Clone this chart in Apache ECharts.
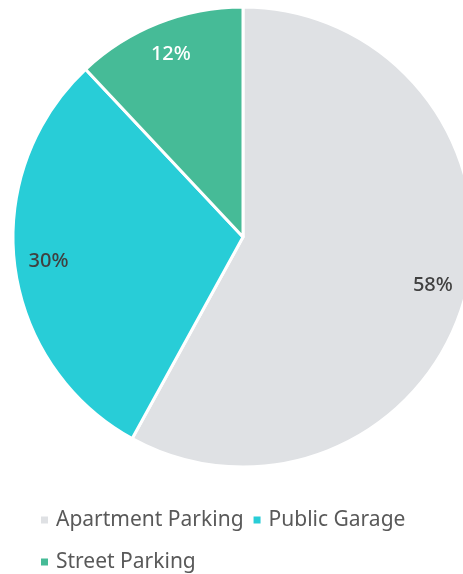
<!DOCTYPE html>
<html>
<head>
<meta charset="utf-8">
<script src="https://cdn.jsdelivr.net/npm/echarts@6/dist/echarts.min.js"></script>
<style>html,body{margin:0;padding:0;background:#fff;}#c{width:463px;height:574px;}</style>
</head>
<body>
<div id="c"></div>
<script>
const categories = ['Apartment Parking', 'Public Garage', 'Street Parking'];
const values = [58, 30, 12];
const colors = ['#dfe1e4', '#28cdd7', '#46bb97'];
const labelColors = ['#404040', '#404040', '#ffffff'];

const chart = echarts.init(document.getElementById('c'));
const pieData = categories.map((n, i) => ({ name: n, value: values[i], itemStyle: { color: colors[i] } }));
const labelData = categories.map((n, i) => ({ name: n, value: values[i], label: { color: labelColors[i] } }));

chart.setOption({
  animation: false,
  textStyle: { fontFamily: 'Noto Sans' },
  legend: {
    data: categories,
    left: 36, top: 499, width: 380,
    orient: 'horizontal',
    itemWidth: 7, itemHeight: 7,
    icon: 'rect',
    itemGap: 10,
    itemStyle: { borderWidth: 0 },
    textStyle: { fontFamily: 'Noto Sans', fontSize: 21, color: '#595959', lineHeight: 32, padding: [0, 0, 0, 3] }
  },
  series: [
    {
      type: 'pie', center: [243, 237], radius: [0, 230], startAngle: 90,
      clockwise: true,
      itemStyle: { borderColor: '#fff', borderWidth: 3 },
      label: { show: false }, labelLine: { show: false },
      emphasis: { disabled: true },
      data: pieData
    },
    {
      type: 'pie', center: [243, 237], radius: [156, 230], startAngle: 90,
      clockwise: true, silent: true,
      itemStyle: { color: 'rgba(0,0,0,0)' },
      label: { show: true, position: 'inside', formatter: '{c}%', fontFamily: 'Noto Sans', fontSize: 20, fontWeight: 500 },
      labelLine: { show: false },
      emphasis: { disabled: true },
      data: labelData
    }
  ]
});
</script>
</body>
</html>
